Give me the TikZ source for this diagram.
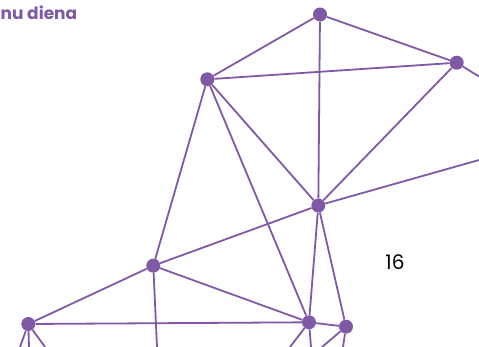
\documentclass[tikz,border=0pt]{standalone}
\usepackage{fontspec}
\setmainfont{Poppins}
\definecolor{netpurple}{RGB}{128,89,166}
\begin{document}
\begin{tikzpicture}[x=1pt,y=-1pt,
  hub/.style={circle,fill=netpurple,inner sep=0pt,minimum size=14pt},
  link/.style={netpurple,line width=1.8pt}]
\useasboundingbox (0,0) rectangle (479,347);
\clip (0,0) rectangle (479,347);
\node[hub] (pTop) at (320,14.5) {};
\node[hub] (pRight) at (456.7,62.7) {};
\node[hub] (pUpper) at (207.3,79.3) {};
\node[hub] (pCentre) at (318.3,205.5) {};
\node[hub] (pWest) at (153.3,265.7) {};
\node[hub] (pCorner) at (28.3,324) {};
\node[hub] (pLow) at (309,322.3) {};
\node[hub] (pLowR) at (346,326.7) {};
\coordinate (eRightA) at (479,76.5);
\coordinate (eRightB) at (479,160);
\coordinate (eWest) at (157,347);
\coordinate (eCornerA) at (20,347);
\coordinate (eCornerB) at (29,347);
\coordinate (eCornerC) at (45,347);
\coordinate (eLowA) at (290,347);
\coordinate (eLowB) at (311,347);
\coordinate (eLowRA) at (322,347);
\coordinate (eLowRB) at (343,347);
\foreach \a/\b in {pTop/pRight, pTop/pUpper, pTop/pCentre, pUpper/pRight,
  pUpper/pCentre, pRight/pCentre, pRight/eRightA, pCentre/eRightB,
  pUpper/pWest, pUpper/pLow, pCentre/pWest, pCentre/pLow, pCentre/pLowR,
  pWest/pLow, pWest/pCorner, pWest/eWest, pCorner/pLow, pLow/pLowR,
  pCorner/eCornerA, pCorner/eCornerB, pCorner/eCornerC,
  pLow/eLowA, pLow/eLowB, pLowR/eLowRA, pLowR/eLowRB}
  \draw[link] (\a) -- (\b);
\node[font=\bfseries\fontsize{17}{20}\selectfont,text=netpurple,anchor=base west,inner sep=0pt] (title) at (0.5,19.5) {nu diena};
\node[font=\fontsize{20}{24}\selectfont,anchor=base,inner sep=0pt] (pageno) at (395,270) {16};
\end{tikzpicture}
\end{document}
